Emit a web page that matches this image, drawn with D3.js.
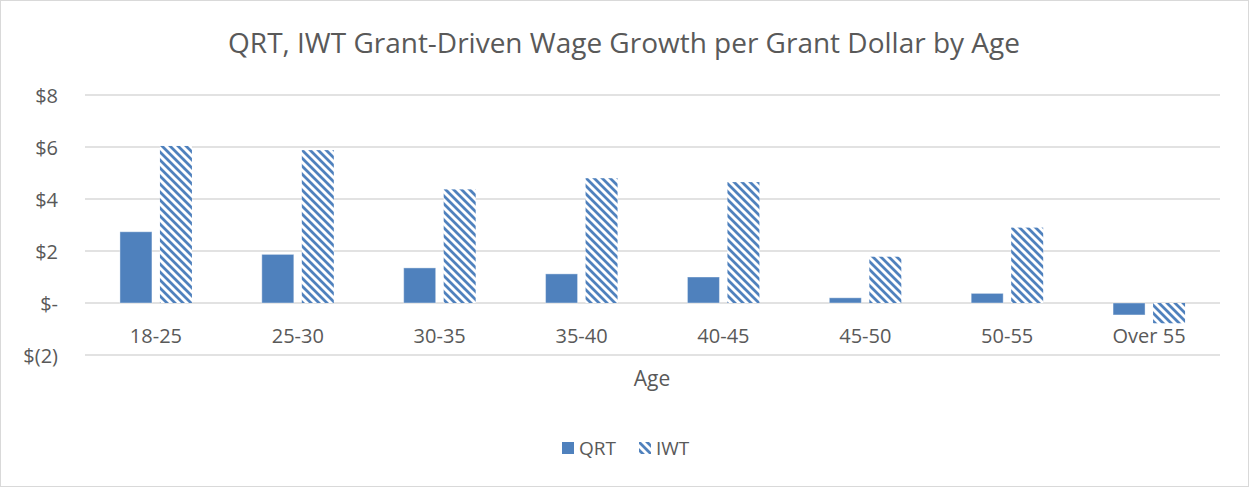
<!DOCTYPE html>
<html>
<head>
<meta charset="utf-8">
<script src="https://cdn.jsdelivr.net/npm/d3@7"></script>
<style>
  body { margin: 0; background: #fff; }
  svg text { font-family: "Open Sans", "Liberation Sans", sans-serif; fill: #595959; }
</style>
</head>
<body>
<div id="chart"></div>
<script>
// Categories and series values (dollars per grant dollar)
const ages = ['18-25', '25-30', '30-35', '35-40', '40-45', '45-50', '50-55', 'Over 55'];
const qrtValues = [2.74, 1.87, 1.35, 1.12, 1.0, 0.2, 0.37, -0.46];
const iwtValues = [6.04, 5.88, 4.37, 4.8, 4.65, 1.78, 2.9, -0.78];
const yTicks = [-2, 0, 2, 4, 6, 8];
const seriesNames = ['QRT', 'IWT'];

const W = 1249, H = 487;
const margin = { top: 95, right: 29, bottom: 132, left: 85 };
const blue = '#4F81BD';

const svg = d3.select('#chart').append('svg')
    .attr('width', W)
    .attr('height', H);

// Outer chart border
svg.append('rect')
    .attr('x', 0.5).attr('y', 0.5)
    .attr('width', W - 1).attr('height', H - 1)
    .attr('fill', '#fff')
    .attr('stroke', '#D9D9D9');

// Hatch pattern (wide downward diagonal)
const defs = svg.append('defs');
const pat = defs.append('pattern')
    .attr('id', 'hatch')
    .attr('patternUnits', 'userSpaceOnUse')
    .attr('width', 8).attr('height', 8);
pat.append('rect').attr('width', 8).attr('height', 8).attr('fill', '#fff');
pat.append('path')
    .attr('d', 'M-2,-2 L10,10 M-2,6 L2,10 M6,-2 L10,2')
    .attr('stroke', blue)
    .attr('stroke-width', 2.8);

// Title, sized to the reference width
const title = svg.append('text')
    .attr('x', 624).attr('y', 53)
    .attr('text-anchor', 'middle')
    .style('font-size', '28px')
    .text('QRT, IWT Grant-Driven Wage Growth per Grant Dollar by Age');
const tw = title.node().getComputedTextLength();
title.style('font-size', (28 * 792 / tw) + 'px');

const x = d3.scaleBand()
    .domain(ages)
    .range([margin.left, W - margin.right]);

const y = d3.scaleLinear()
    .domain([-2, 8])
    .range([355, 95]);

// Gridlines
svg.append('g').selectAll('line')
    .data(yTicks)
    .join('line')
    .attr('x1', margin.left).attr('x2', W - margin.right)
    .attr('y1', d => y(d)).attr('y2', d => y(d))
    .attr('stroke', '#D9D9D9')
    .attr('stroke-width', 1.3);

// Y axis labels
const fmt = d => d === 0 ? '$-' : (d < 0 ? `$(${Math.abs(d)})` : `$${d}`);
const yAxis = svg.append('g')
    .attr('transform', `translate(58,0)`)
    .call(d3.axisLeft(y).tickValues(yTicks).tickFormat(fmt).tickSize(0).tickPadding(0));
yAxis.select('.domain').remove();
yAxis.selectAll('text').style('font-size', '20px').attr('fill', '#595959').attr('dy', '0.35em');

// Bars
const barW = 32, gap = 8;
const groupW = barW * 2 + gap;
const off = (x.bandwidth() - groupW) / 2;

const rows = ages.map((a, i) => ({ age: a, qrt: qrtValues[i], iwt: iwtValues[i] }));

svg.append('g').selectAll('rect')
    .data(rows)
    .join('rect')
    .attr('x', d => x(d.age) + off)
    .attr('y', d => y(Math.max(0, d.qrt)))
    .attr('width', barW)
    .attr('height', d => Math.abs(y(d.qrt) - y(0)))
    .attr('fill', blue)
    .attr('stroke', '#fff')
    .attr('stroke-opacity', 0.4)
    .attr('stroke-width', 1);

svg.append('g').selectAll('rect')
    .data(rows)
    .join('rect')
    .attr('x', d => x(d.age) + off + barW + gap)
    .attr('y', d => y(Math.max(0, d.iwt)))
    .attr('width', barW)
    .attr('height', d => Math.abs(y(d.iwt) - y(0)))
    .attr('fill', 'url(#hatch)');

// X axis labels
const xAxis = svg.append('g')
    .attr('transform', `translate(0,${y(0)})`)
    .call(d3.axisBottom(x).tickSize(0).tickPadding(0));
xAxis.select('.domain').remove();
xAxis.selectAll('text').style('font-size', '20px').attr('fill', '#595959')
    .attr('dy', null).attr('y', 40);

// X axis title
svg.append('text')
    .attr('x', 652)
    .attr('y', 386)
    .attr('text-anchor', 'middle')
    .style('font-size', '21px')
    .text('Age');

// Legend
const legend = svg.append('g').attr('transform', 'translate(562,442)');
const items = legend.selectAll('g')
    .data(seriesNames)
    .join('g')
    .attr('transform', (d, i) => `translate(${i * 77},0)`);
items.append('rect')
    .attr('width', 12).attr('height', 12)
    .attr('fill', (d, i) => i === 0 ? blue : 'url(#hatch)');
items.append('text')
    .attr('x', 17).attr('y', 6)
    .attr('dy', '0.35em')
    .style('font-size', '19px')
    .text(d => d);
</script>
</body>
</html>
